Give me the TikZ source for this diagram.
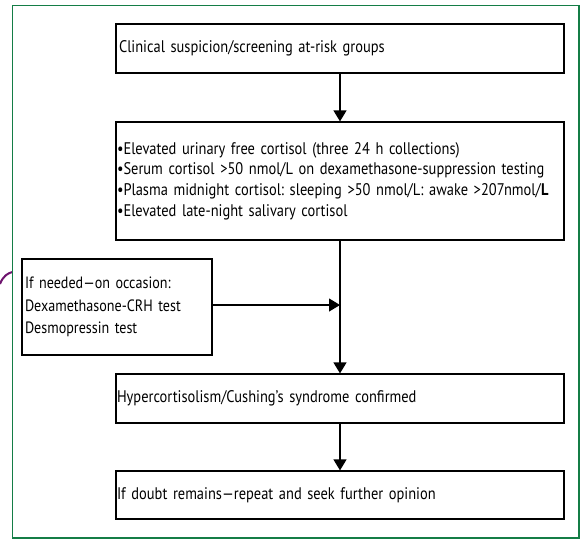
\documentclass[tikz,border=0pt]{standalone}
\usepackage{fontspec}
\setmainfont[FakeStretch=0.86]{PT Sans}
\usetikzlibrary{arrows.meta}

\begin{document}
\frenchspacing
\begin{tikzpicture}[x=1pt, y=-1pt,
    box/.style={draw, line width=1.2pt, minimum width=448pt, text width=446pt,
      inner xsep=1pt, align=left, font=\fontsize{16.8}{20.7}\selectfont},
    flow/.style={line width=1.2pt, -{Triangle[width=13pt,length=11pt]}}]
    \useasboundingbox (0,0) rectangle (582,539);

    % outer frame and the stray curve at the left
    \draw[line width=2pt, color={rgb,255:red,110;green,20;blue,110}]
      (0,284) .. controls (3,276) and (8,273) .. (12.5,272);
    \draw[line width=1.5pt, color={rgb,255:red,20;green,125;blue,70}]
      (12.5,5.5) rectangle (579,538);

    \node[box, minimum height=49pt, text width=442pt, inner xsep=3pt] (screen) at (340,48.5)
      {Clinical suspicion/screening at-risk groups};
    \node[box, minimum height=118pt] (tests) at (340,181)
      {•Elevated urinary free cortisol (three 24 h collections)\\
       •Serum cortisol >50 nmol/L on dexamethasone-suppression testing\\
       •Plasma midnight cortisol: sleeping >50 nmol/L: awake >207nmol/\textbf{L}\\
       •Elevated late-night salivary cortisol};
    \node[box, minimum width=190pt, text width=184pt, inner xsep=3pt, minimum height=96pt,
      font=\fontsize{16.4}{22.5}\selectfont] (extra) at (117,307)
      {If needed—on occasion:\\
       Dexamethasone-CRH test\\
       Desmopressin test};
    \node[box, minimum height=49pt] (confirmed) at (340,398.5)
      {Hypercortisolism/Cushing’s syndrome confirmed};
    \node[box, minimum height=48pt] (doubt) at (340,495)
      {If doubt remains—repeat and seek further opinion};

    \draw[flow] (screen) -- (tests);
    \draw[flow] (tests) -- (confirmed);
    \draw[flow] (extra.east) ++(0,-2) coordinate (joinstart) -- (joinstart -| tests.south);
    \draw[flow] (confirmed) -- (doubt);
\end{tikzpicture}
\end{document}
